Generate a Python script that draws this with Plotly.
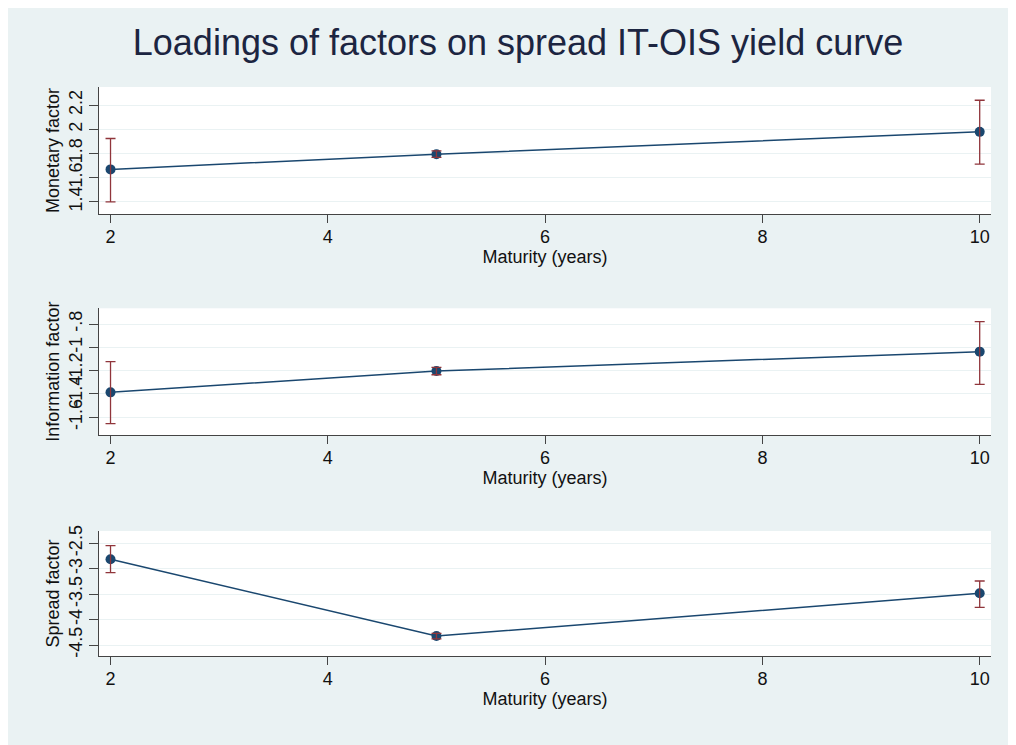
import plotly.graph_objects as go
from plotly.subplots import make_subplots

maturity = [2, 5, 10]

monetary = [1.668, 1.794, 1.979]
monetary_lo = [1.398, 1.767, 1.712]
monetary_hi = [1.924, 1.822, 2.241]

information = [-1.386, -1.203, -1.037]
information_lo = [-1.655, -1.235, -1.317]
information_hi = [-1.123, -1.171, -0.780]

spread = [-2.815, -4.323, -3.483]
spread_lo = [-3.078, -4.38, -3.759]
spread_hi = [-2.547, -4.27, -3.241]

panels = [
    ("Monetary factor", monetary, monetary_lo, monetary_hi, [1.4, 1.6, 1.8, 2.0, 2.2], ["1.4", "1.6", "1.8", "2", "2.2"], [1.298, 2.351]),
    ("Information factor", information, information_lo, information_hi, [-1.6, -1.4, -1.2, -1.0, -0.8], ["-1.6", "-1.4", "-1.2", "-1", "-.8"], [-1.752, -0.665]),
    ("Spread factor", spread, spread_lo, spread_hi, [-4.5, -4, -3.5, -3, -2.5], ["-4.5", "-4", "-3.5", "-3", "-2.5"], [-4.716, -2.258]),
]
x_ticks = [2, 4, 6, 8, 10]

NAVY = "#1a476f"
RED = "#90353b"
BG = "#eaf2f3"
FONT = "Liberation Sans, Arial, sans-serif"

fig = make_subplots(rows=3, cols=1)

# figure is placed at an 8px page offset
W, H = 1008, 737
ml, mr, mt, mb = 91, 25, 79, 89
ph = H - mt - mb
bottom_all = H - mb
extents = [(79, 206), (300.3, 427), (523, 648)]
domains = [((bottom_all - b) / ph, (bottom_all - t) / ph) for t, b in extents]

for i, (name, vals, lo, hi, tv, tt, yr) in enumerate(panels):
    r = i + 1
    fig.add_trace(go.Scatter(
        x=maturity, y=vals, mode="lines+markers",
        line=dict(color=NAVY, width=1.5),
        marker=dict(color=NAVY, size=10),
        showlegend=False, hoverinfo="skip"), row=r, col=1)
    fig.add_trace(go.Scatter(
        x=maturity, y=vals, mode="markers",
        marker=dict(color="rgba(0,0,0,0)", size=1),
        error_y=dict(type="data", symmetric=False,
                     array=[h - v for h, v in zip(hi, vals)],
                     arrayminus=[v - l for v, l in zip(vals, lo)],
                     color=RED, thickness=1.3, width=5),
        showlegend=False, hoverinfo="skip"), row=r, col=1)
    fig.update_yaxes(row=r, col=1, domain=[max(0.0, domains[i][0]), min(1.0, domains[i][1])], range=yr,
                     tickvals=tv, ticktext=tt, tickangle=-90,
                     ticks="outside", ticklen=9, tickcolor="#444", tickwidth=1,
                     ticklabelstandoff=0,
                     showline=True, linecolor="#444", linewidth=1,
                     showgrid=True, gridcolor=BG, gridwidth=1.2, zeroline=False,
                     tickfont=dict(size=18, color="#111", family=FONT),
                     title=dict(text=name, font=dict(size=18, color="#111", family=FONT), standoff=1))
    fig.update_xaxes(row=r, col=1, range=[1.894, 10.104],
                     tickvals=x_ticks, ticktext=[str(t) for t in x_ticks],
                     ticks="outside", ticklen=8, tickcolor="#444", tickwidth=1,
                     ticklabelstandoff=-2,
                     showline=True, linecolor="#444", linewidth=1,
                     showgrid=False, zeroline=False,
                     tickfont=dict(size=18, color="#111", family=FONT),
                     title=dict(text="Maturity (years)", font=dict(size=18, color="#111", family=FONT), standoff=0))

fig.update_layout(
    width=W, height=H,
    margin=dict(l=ml, r=mr, t=mt, b=mb),
    paper_bgcolor=BG, plot_bgcolor="white",
    font=dict(family=FONT, color="#111"),
    title=dict(text="Loadings of factors on spread IT-OIS yield curve",
               font=dict(size=36, color="#1c2541", family=FONT),
               x=510 / W, xanchor="center", y=1 - 34 / H, yanchor="middle"),
)

fig.write_html("out.html")
